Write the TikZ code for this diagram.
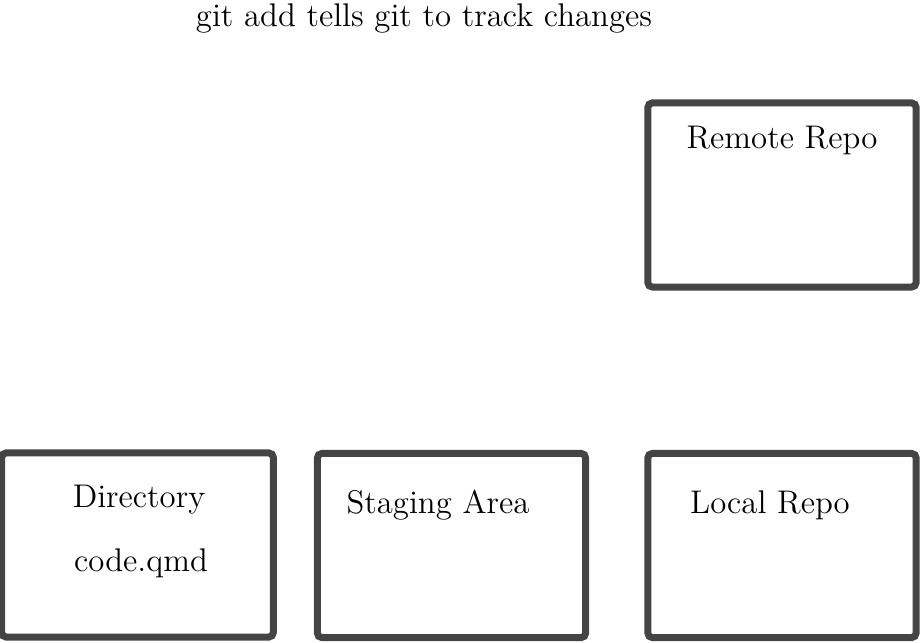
\documentclass[tikz,border=0pt]{standalone}
\usepackage{amsmath}
\usepackage{tikz}
\usepackage{xcolor}
\usetikzlibrary{positioning}

\definecolor{boxgray}{HTML}{444444}
\tikzset{
  gitbox/.style={draw=boxgray, line width=2.4pt, rounded corners=1.5pt, minimum width=3.25cm, minimum height=2.23cm, inner sep=0pt},
  gitlabel/.style={inner sep=0pt, font=\fontsize{11.3}{13.6}\selectfont}
}

\begin{document}
\begin{tikzpicture}[x=0.01212cm, y=-0.01212cm]
  \useasboundingbox (0,0) rectangle (922,643); %edit here for the page
  \node[gitlabel] (title) at (424,18) {git add tells git to track changes};
  % the four areas
  \node[gitbox, minimum width=3.29cm] (dir) at (137.5,545) {};
  \node[gitbox] (stage) at (451.5,545.5) {};
  \node[gitbox] (local) at (782,545.5) {};
  \node[gitbox] (remote) at (782,195) {};
  \node[gitlabel] (dirname) at (139,500) {Directory};
  \node[gitlabel] (file) at (141,563) {code.qmd};
  \node[gitlabel] (stagename) at (438,505) {Staging Area};
  \node[gitlabel] (localname) at (770,505) {Local Repo};
  \node[gitlabel] (remotename) at (782,140) {Remote Repo};
\end{tikzpicture}
\end{document}
